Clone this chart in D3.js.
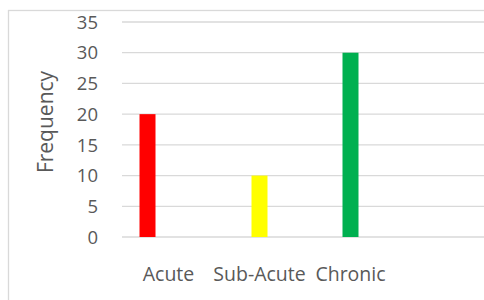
<!DOCTYPE html>
<html>
<head>
<meta charset="utf-8">
<script src="https://cdn.jsdelivr.net/npm/d3@7"></script>
<style>
  body { margin: 0; background: #fff; }
  text { font-family: "Open Sans", sans-serif; fill: #595959; }
</style>
</head>
<body>
<div id="canvas"></div>
<script>
// categories and values (4th slot is an empty category in the original)
const categories = ["Acute", "Sub-Acute", "Chronic", ""];
const frequency = [20, 10, 30];
const barColors = ["#ff0000", "#ffff00", "#00b050"];
const yTicks = [0, 5, 10, 15, 20, 25, 30, 35];

const W = 484, H = 300;
const margin = {top: 22, right: 0, bottom: 63, left: 122};

const svg = d3.select("#canvas")
    .append("svg")
    .attr("width", W)
    .attr("height", H);

// chart frame (runs off the right/bottom edge in the reference)
svg.append("rect")
    .attr("x", 8.5)
    .attr("y", 10.5)
    .attr("width", W + 20)
    .attr("height", H + 20)
    .style("fill", "none")
    .style("stroke", "#d9d9d9")
    .style("stroke-width", 1.3);

// band scale runs a little past the right edge, like the original plot area
const x = d3.scaleBand()
    .domain(categories)
    .range([margin.left + 1, W + 3]);

const y = d3.scaleLinear()
    .domain([0, 35])
    .range([H - margin.bottom, margin.top]);

// gridlines
svg.append("g")
    .selectAll("line")
    .data(yTicks)
    .enter()
    .append("line")
    .attr("x1", margin.left)
    .attr("x2", W)
    .attr("y1", d => y(d))
    .attr("y2", d => y(d))
    .style("stroke", "#d9d9d9")
    .style("stroke-width", 1.3);

// y tick labels
svg.append("g")
    .selectAll("text")
    .data(yTicks)
    .enter()
    .append("text")
    .attr("x", 98)
    .attr("y", d => y(d))
    .attr("dy", "0.36em")
    .attr("text-anchor", "end")
    .style("font-size", "18.5px")
    .text(d => d);

// bars - the Acute bar sits left of its slot in the reference
const barW = 16;
const shift = {"Acute": -21};
svg.append("g")
    .selectAll("rect")
    .data(frequency)
    .enter()
    .append("rect")
    .attr("x", (d, i) => x(categories[i]) + x.bandwidth() / 2 - barW / 2 + (shift[categories[i]] || 0))
    .attr("y", d => y(d))
    .attr("width", barW)
    .attr("height", d => y(0) - y(d))
    .style("fill", (d, i) => barColors[i]);

// category labels
svg.append("g")
    .selectAll("text")
    .data(categories.filter(c => c !== ""))
    .enter()
    .append("text")
    .attr("x", d => x(d) + x.bandwidth() / 2)
    .attr("y", 281)
    .attr("text-anchor", "middle")
    .style("font-size", "19.5px")
    .text(d => d);

// y axis title
svg.append("text")
    .attr("transform", "translate(53,122) rotate(-90)")
    .attr("text-anchor", "middle")
    .style("font-size", "21px")
    .text("Frequency");
</script>
</body>
</html>
